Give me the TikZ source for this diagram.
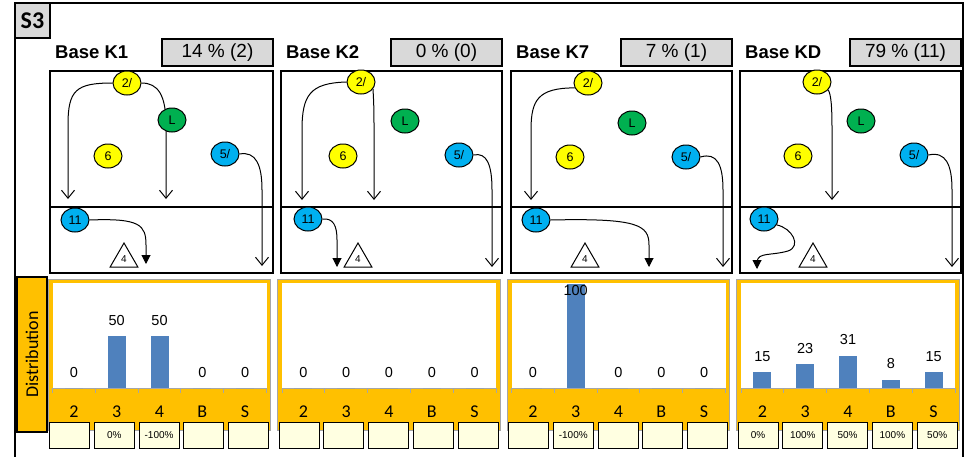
\documentclass[tikz,border=0pt]{standalone}
\usepackage{fontspec}
\setmainfont{Liberation Sans}
\newfontfamily\calibri{Carlito}
\usetikzlibrary{shapes.geometric,arrows.meta,backgrounds}

\definecolor{pyellow}{HTML}{FFFF00}
\definecolor{pgreen}{HTML}{00B050}
\definecolor{pblue}{HTML}{00B0F0}
\definecolor{boxgray}{HTML}{D9D9D9}
\definecolor{chartorange}{HTML}{FFC000}
\definecolor{barblue}{HTML}{4F81BD}
\definecolor{pctfill}{HTML}{FFFFE1}
\definecolor{framegray}{HTML}{A6A6A6}

\tikzset{
	player/.style={ellipse, draw, line width=1pt, minimum width=28pt, minimum height=24pt, inner sep=0pt, font=\fontsize{12.5}{12.5}\selectfont},
	yel/.style={player, fill=pyellow},
	grn/.style={player, fill=pgreen},
	blu/.style={player, fill=pblue},
	cone/.style={regular polygon, regular polygon sides=3, draw, line width=1pt, fill=white, minimum size=32pt, inner sep=0pt, font=\fontsize{10}{10}\selectfont},
	run/.style={line width=1pt, -{Straight Barb[length=8pt,width=13pt]}},
	dribble/.style={line width=1pt, -{Triangle[length=9pt,width=9pt]}},
	field/.style={draw, line width=2pt},
	title/.style={font=\bfseries\fontsize{18.5}{18.5}\selectfont, anchor=west, inner sep=0pt},
	share/.style={draw, line width=2pt, fill=boxgray, minimum width=111pt, minimum height=27pt, font=\fontsize{19}{19}\selectfont},
	pct/.style={draw, line width=1pt, fill=pctfill, minimum width=40pt, minimum height=26pt, inner sep=0pt, font=\fontsize{10}{10}\selectfont},
	val/.style={font=\fontsize{14.5}{14.5}\selectfont},
	cat/.style={font=\calibri\fontsize{18}{18}\selectfont},
}

\begin{document}
\begin{tikzpicture}[x=1pt, y=-1pt]

	\useasboundingbox (0,0) rectangle (971,456);

	% frame and header
	\draw[line width=2pt] (15,460) -- (15,3) -- (963,3) -- (963,460);
	\node[draw, line width=2pt, fill=boxgray, minimum width=35pt, minimum height=35pt, font=\calibri\bfseries\fontsize{24}{24}\selectfont] (s3) at (32.5,20.5) {S3};

	\foreach \L/\R/\name/\share in {50/273/K1/14 \% (2), 281/502/K2/0 \% (0), 511/732/K7/7 \% (1), 740/961/KD/79 \% (11)} {
		\draw[field] (\L,70.5) rectangle (\R,273);
		\draw[field] (\L,207) -- (\R,207);
		\node[title] (\name title) at (\L+5,52.5) {Base \name};
		\node[share] (\name share) at (\R-55.5,52.5) {\share};
	}

	% Base K1
	\node[yel] (K1two) at (127,83) {2/};
	\node[grn] (K1L) at (172,120) {L};
	\node[yel] (K1six) at (108,156) {6};
	\node[blu] (K1five) at (225,154) {5/};
	\node[blu] (K1eleven) at (75,220) {11};
	\node[cone] (K1cone) at (124,259) {4};
	\coordinate (K1a) at (68,199);
	\coordinate (K1b) at (166,199);
	\coordinate (K1c) at (262,266);
	\coordinate (K1d) at (146,264);

	% Base K2
	\node[yel] (K2two) at (361,82) {2/};
	\node[grn] (K2L) at (405,121) {L};
	\node[yel] (K2six) at (343,156) {6};
	\node[blu] (K2five) at (459,155) {5/};
	\node[blu] (K2eleven) at (308,219) {11};
	\node[cone] (K2cone) at (358,259) {4};
	\coordinate (K2a) at (302,200);
	\coordinate (K2b) at (374,200);
	\coordinate (K2c) at (492,267);
	\coordinate (K2d) at (337,267);

	% Base K7
	\node[yel] (K7two) at (588,83) {2/};
	\node[grn] (K7L) at (632,123) {L};
	\node[yel] (K7six) at (570,157) {6};
	\node[blu] (K7five) at (686,157) {5/};
	\node[blu] (K7eleven) at (536,220) {11};
	\node[cone] (K7cone) at (585,259) {4};
	\coordinate (K7a) at (531,200);
	\coordinate (K7c) at (723,267);
	\coordinate (K7d) at (649,267);

	% Base KD
	\node[yel] (KDtwo) at (817,82) {2/};
	\node[grn] (KDL) at (861,121) {L};
	\node[yel] (KDsix) at (798,156) {6};
	\node[blu] (KDfive) at (914,155) {5/};
	\node[blu] (KDeleven) at (764,219) {11};
	\node[cone] (KDcone) at (813,259) {4};
	\coordinate (KDb) at (832,200);
	\coordinate (KDc) at (952,267);
	\coordinate (KDd) at (757,269);

	\begin{scope}[on background layer]
		\draw[run] (K1two.west) .. controls (76,83) and (68,90) .. (68,125) -- (K1a);
		\draw[run] (K1two.east) .. controls (158,83) and (166,95) .. (166,125) -- (K1b);
		\draw[run] (K1five.east) .. controls (256,151) and (262,165) .. (262,190) -- (K1c);
		\draw[dribble] (K1eleven.east) .. controls (140,218) and (146,225) .. (146,245) -- (K1d);

		\draw[run] (K2two.west) .. controls (310,83) and (302,95) .. (302,130) -- (K2a);
		\draw[run] (K2two.-30) .. controls (373,92) and (374,100) .. (374,125) -- (K2b);
		\draw[run] (K2five.east) .. controls (487,152) and (492,165) .. (492,190) -- (K2c);
		\draw[dribble] (K2eleven.east) .. controls (333,218) and (337,225) .. (337,240) -- (K2d);

		\draw[run] (K7two.200) .. controls (538,88) and (531,100) .. (531,130) -- (K7a);
		\draw[run] (K7five.east) .. controls (717,152) and (723,165) .. (723,190) -- (K7c);
		\draw[dribble] (K7eleven.east) .. controls (638,218) and (649,225) .. (649,245) -- (K7d);

		\draw[run] (KDtwo.-35) .. controls (831,95) and (832,105) .. (832,130) -- (KDb);
		\draw[run] (KDfive.east) .. controls (946,151) and (952,165) .. (952,190) -- (KDc);
		\draw[dribble] (KDeleven.-25) .. controls (792,228) and (802,246) .. (788,251) .. controls (770,256) and (758,252) .. (757,262) -- (KDd);
	\end{scope}

	% distribution charts
	\node[draw, line width=1.2pt, fill=chartorange, rotate=90, minimum width=155pt, minimum height=30pt, font=\calibri\fontsize{18}{18}\selectfont] (dist) at (32,354.5) {Distribution};

	\foreach \X/\data [count=\i] in {52.5/{0/{},50/0\%,50/-100\%,0/{},0/{}}, 282/{0/{},0/{},0/{},0/{},0/{}}, 511.5/{0/{},100/-100\%,0/{},0/{},0/{}}, 741/{15/0\%,23/100\%,31/50\%,8/100\%,15/50\%}} {
		\draw[framegray, fill=chartorange, line width=1pt] (\X-4.5,279) rectangle (\X+218,430);
		\fill[white] (\X,283) rectangle (\X+214,388);
		\draw[framegray, line width=1pt] (\X,388) -- (\X+214,388);
		\foreach \k in {0,...,5}
			\draw[framegray, line width=1pt] (\X+42.8*\k,388) -- (\X+42.8*\k,393);
		\foreach \v/\p [count=\k from 0] in \data {
			\fill[barblue] (\X+12.4+42.8*\k,388) rectangle (\X+30.4+42.8*\k,388-1.04*\v);
			\pgfmathsetmacro\ly{max(372-1.04*\v,291)}
			\node[val] (val\i-\k) at (\X+21.4+42.8*\k,\ly) {\v};
			\node[pct] (pct\i-\k) at (\X+17+44.8*\k,435) {\p};
		}
		\foreach \c [count=\k from 0] in {2,3,4,B,S}
			\node[cat] (cat\i-\k) at (\X+21.4+42.8*\k,412) {\c};
	}

\end{tikzpicture}
\end{document}
